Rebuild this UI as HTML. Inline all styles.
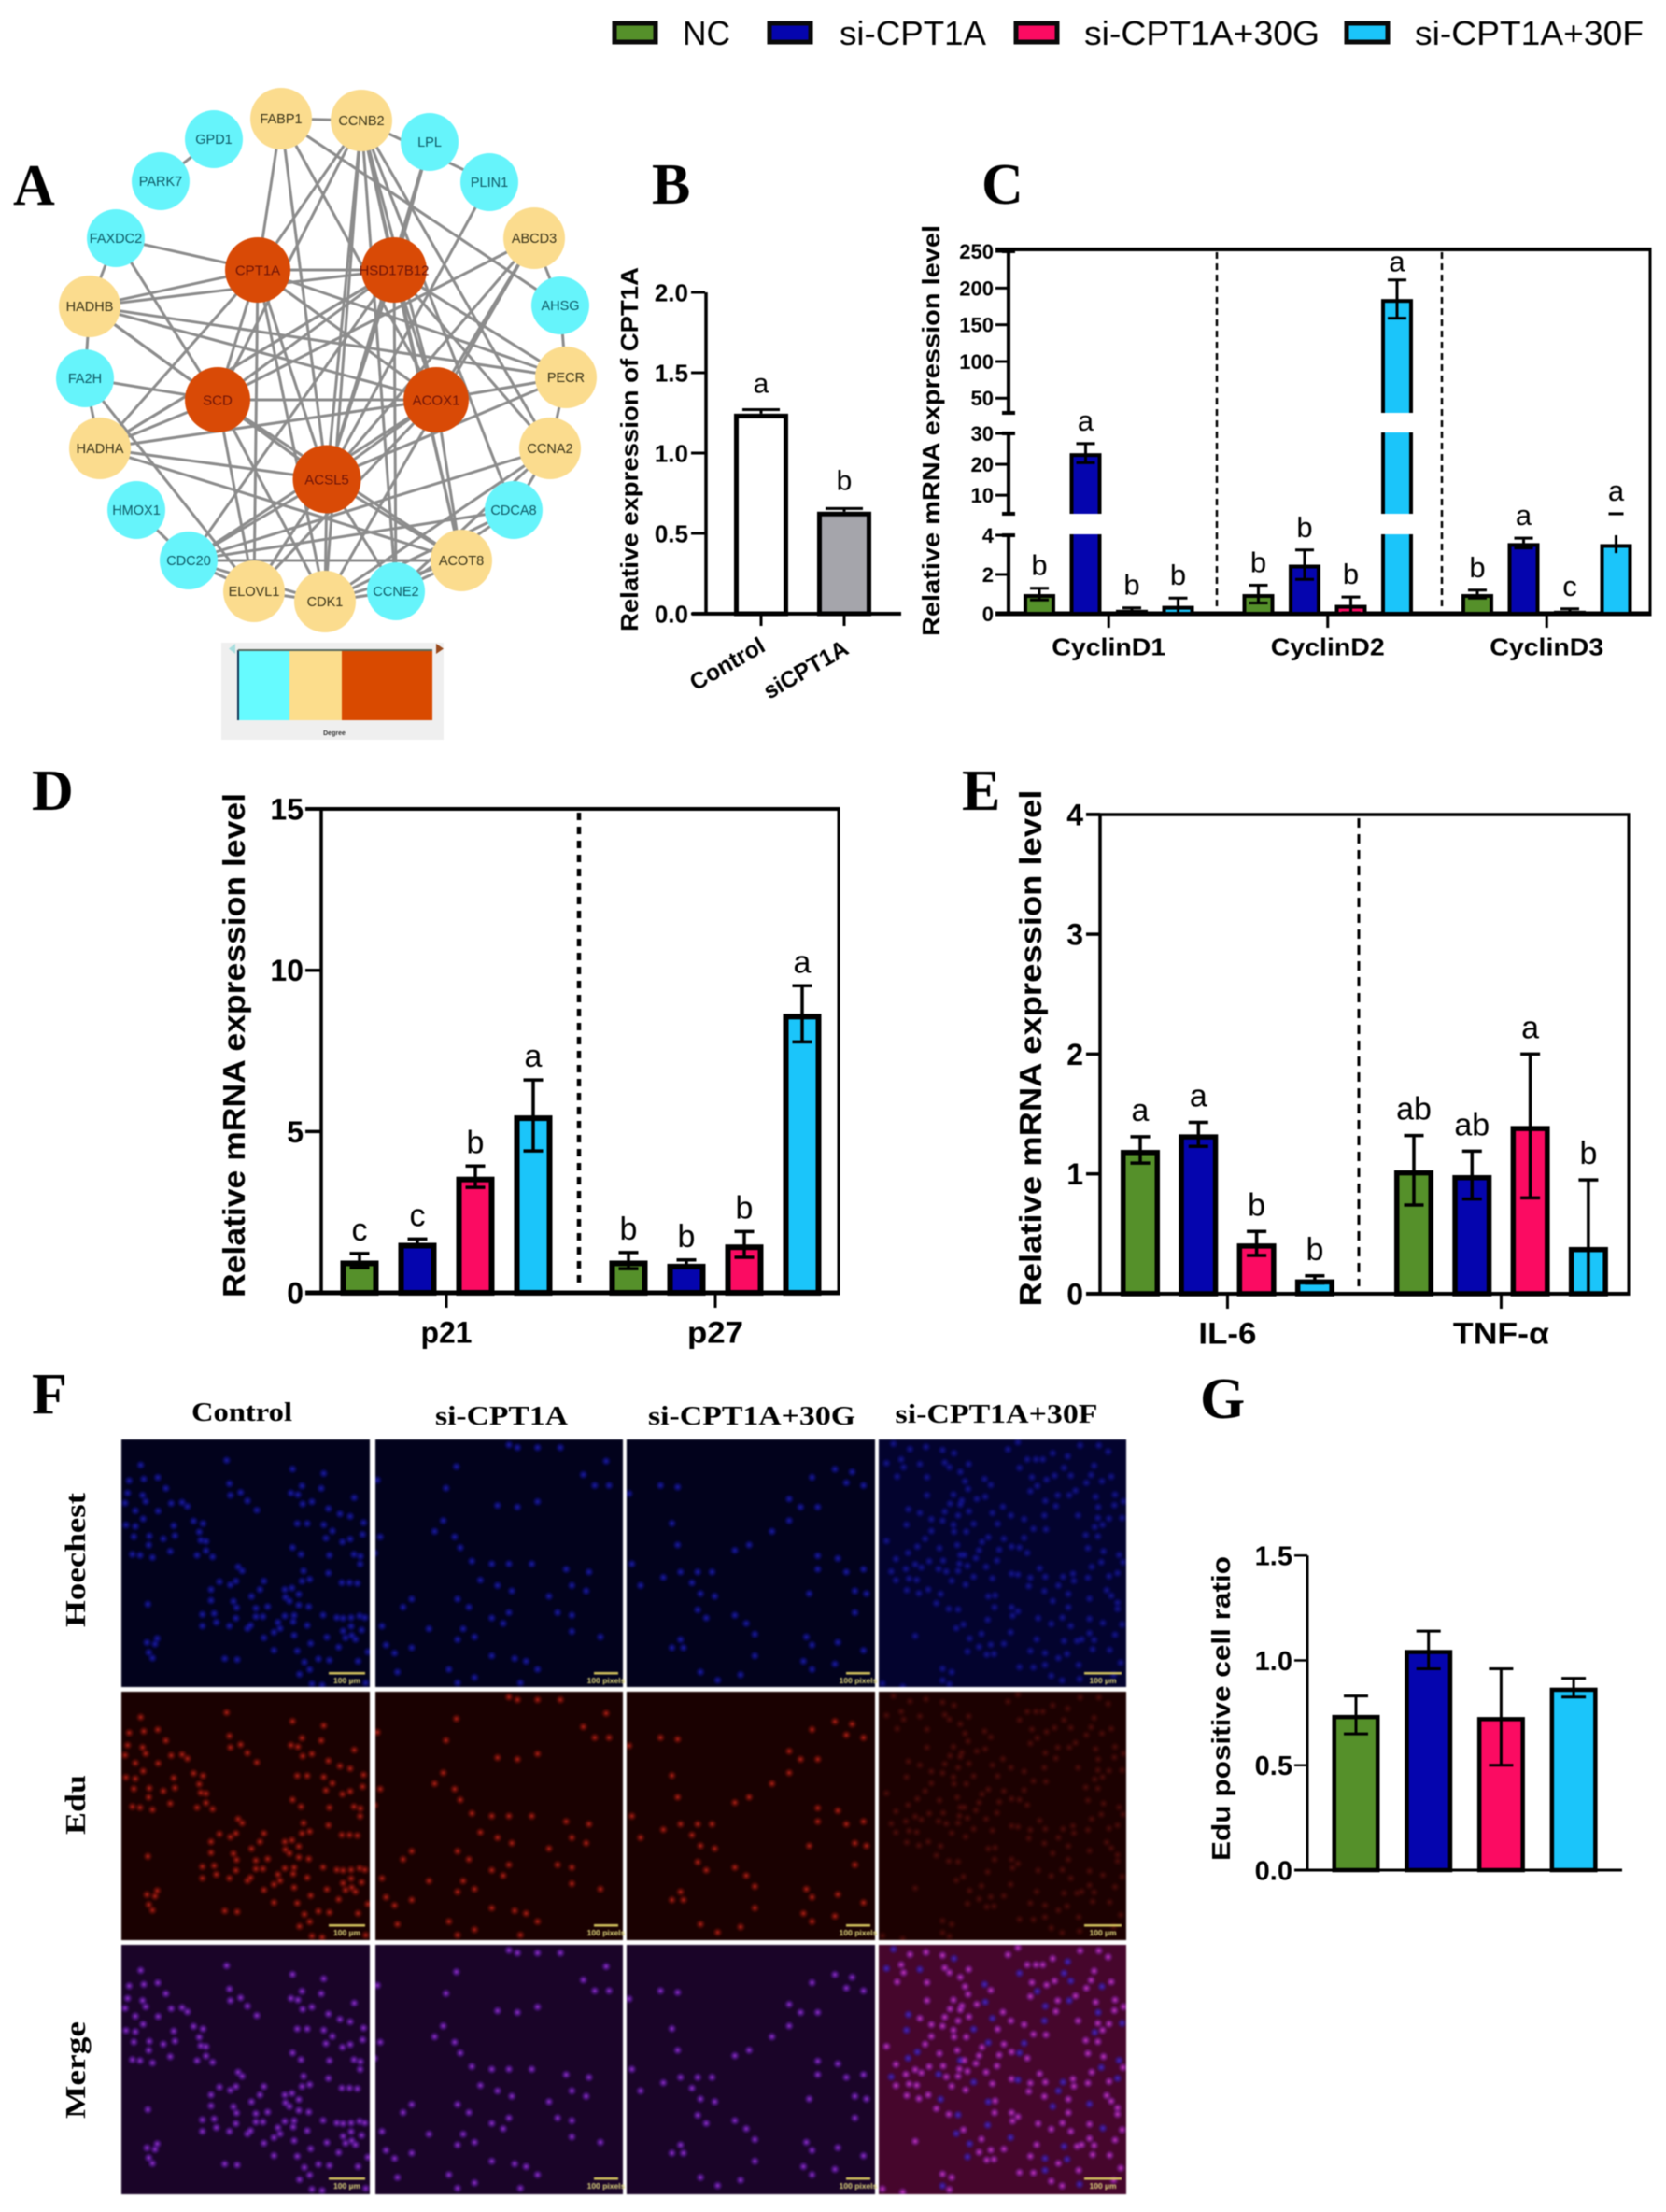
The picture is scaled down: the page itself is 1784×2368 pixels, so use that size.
<!DOCTYPE html>
<html lang="en">
<head>
<meta charset="utf-8">
<title>CPT1A knockdown figure panels</title>
<style>
html,body{margin:0;padding:0;background:#fff;}
svg{display:block;font-family:"Liberation Sans",Arial,sans-serif;filter:blur(0.5px);}
</style>
</head>
<body>
<svg id="fig" xmlns="http://www.w3.org/2000/svg" width="1784" height="2368" viewBox="0 0 1784 2368">
<defs>
<radialGradient id="g-blue"><stop offset="0" stop-color="#2a2ae0"/><stop offset=".4" stop-color="#1a1ab8" stop-opacity=".75"/><stop offset="1" stop-color="#1010a0" stop-opacity="0"/></radialGradient>
<radialGradient id="g-blue2"><stop offset="0" stop-color="#4a30e0"/><stop offset=".4" stop-color="#3a20c0" stop-opacity=".75"/><stop offset="1" stop-color="#3018a0" stop-opacity="0"/></radialGradient>
<radialGradient id="g-red"><stop offset="0" stop-color="#e03020"/><stop offset=".4" stop-color="#a01810" stop-opacity=".7"/><stop offset="1" stop-color="#801008" stop-opacity="0"/></radialGradient>
<radialGradient id="g-dimred"><stop offset="0" stop-color="#8a1810"/><stop offset=".4" stop-color="#601210" stop-opacity=".7"/><stop offset="1" stop-color="#500c08" stop-opacity="0"/></radialGradient>
<radialGradient id="g-purple"><stop offset="0" stop-color="#b840f0"/><stop offset=".4" stop-color="#7a24c8" stop-opacity=".75"/><stop offset="1" stop-color="#6018a8" stop-opacity="0"/></radialGradient>
<radialGradient id="g-pink"><stop offset="0" stop-color="#e848d8"/><stop offset=".4" stop-color="#a828c8" stop-opacity=".75"/><stop offset="1" stop-color="#8020a8" stop-opacity="0"/></radialGradient>
</defs>

<g>
<rect x="658" y="25" width="44" height="20" fill="#55902a" stroke="#0a0a0a" stroke-width="5"/>
<text x="731" y="48" font-size="36" textLength="51" lengthAdjust="spacingAndGlyphs">NC</text>
<rect x="824" y="25" width="44" height="20" fill="#0505ae" stroke="#0a0a0a" stroke-width="5"/>
<text x="899" y="48" font-size="36" textLength="157" lengthAdjust="spacingAndGlyphs">si-CPT1A</text>
<rect x="1088" y="25" width="44" height="20" fill="#fb0b62" stroke="#0a0a0a" stroke-width="5"/>
<text x="1161" y="48" font-size="36" textLength="252" lengthAdjust="spacingAndGlyphs">si-CPT1A+30G</text>
<rect x="1442" y="25" width="44" height="20" fill="#1bc5fa" stroke="#0a0a0a" stroke-width="5"/>
<text x="1515" y="48" font-size="36" textLength="245" lengthAdjust="spacingAndGlyphs">si-CPT1A+30F</text>
</g>

<g font-family="'Liberation Serif',serif" font-weight="bold" font-size="62" fill="#000">
<text x="14" y="219">A</text>
<text x="698" y="218">B</text>
<text x="1051" y="218">C</text>
<text x="34" y="867">D</text>
<text x="1030" y="867">E</text>
<text x="34" y="1513">F</text>
<text x="1285" y="1518">G</text>
</g>

<g id="network"></g>
<g>
<rect x="237" y="688" width="238" height="104" fill="#efefef"/>
<rect x="255" y="696" width="55" height="75" fill="#66fbff"/>
<rect x="310" y="696" width="56" height="75" fill="#fcdd8c"/>
<rect x="366" y="696" width="97" height="75" fill="#d94a00"/>
<rect x="254" y="696" width="2" height="75" fill="#135"/>
<rect x="255" y="695" width="208" height="2" fill="#5a6a60"/>
<polygon points="252,689 252,700 245,694.5" fill="#a8dede"/>
<polygon points="467,689 467,700 475,694.5" fill="#9a4a1c"/>
<text x="358" y="787" font-size="7" font-weight="bold" text-anchor="middle" fill="#333">Degree</text>
</g>

<g id="panelB"></g>
<g id="panelC"></g>
<g id="panelD"></g>
<g id="panelE"></g>
<g id="panelF"></g>
<g id="panelG"></g>
</svg>

<script>
// ---------- chart data ----------
const seriesColors = ['#55902a', '#0505ae', '#fb0b62', '#1bc5fa'];

const bCategories = ['Control', 'siCPT1A'];
const bValues = [1.245, 0.635];
const bErrors = [0.025, 0.02];
const bLetters = ['a', 'b'];
const bTicks = ['0.0', '0.5', '1.0', '1.5', '2.0'];

const cCategories = ['CyclinD1', 'CyclinD2', 'CyclinD3'];
const cNC = [1, 1, 1];
const cSi = [23.6, 2.5, 3.6];
const c30G = [0.2, 0.45, 0.15];
const c30F = [0.4, 185, 3.55];
const cNCErr = [0.3, 0.45, 0.2];
const cSiErr = [3.1, 0.75, 0.25];
const c30GErr = [0.1, 0.4, 0.1];
const c30FErr = [0.4, 26, 0.46];
const cNCLetters = ['b', 'b', 'b'];
const cSiLetters = ['a', 'b', 'a'];
const c30GLetters = ['b', 'b', 'c'];
const c30FLetters = ['b', 'a', 'a'];
const cTicks = [0, 2, 4, 10, 20, 30, 50, 100, 150, 200, 250];

const dCategories = ['p21', 'p27'];
const dNC = [1, 1];
const dSi = [1.55, 0.9];
const d30G = [3.6, 1.5];
const d30F = [5.5, 8.65];
const dNCErr = [0.22, 0.25];
const dSiErr = [0.12, 0.12];
const d30GErr = [0.33, 0.4];
const d30FErr = [1.1, 0.87];
const dNCLetters = ['c', 'b'];
const dSiLetters = ['c', 'b'];
const d30GLetters = ['b', 'b'];
const d30FLetters = ['a', 'a'];
const dTicks = [0, 5, 10, 15];

const eCategories = ['IL-6', 'TNF-\u03b1'];
const eNC = [1.2, 1.03];
const eSi = [1.33, 0.99];
const e30G = [0.42, 1.4];
const e30F = [0.12, 0.39];
const eNCErr = [0.11, 0.29];
const eSiErr = [0.1, 0.2];
const e30GErr = [0.1, 0.6];
const e30FErr = [0.03, 0.56];
const eNCLetters = ['a', 'ab'];
const eSiLetters = ['a', 'ab'];
const e30GLetters = ['b', 'a'];
const e30FLetters = ['b', 'b'];
const eTicks = [0, 1, 2, 3, 4];

const gValues = [0.74, 1.05, 0.73, 0.87];
const gErrors = [0.09, 0.09, 0.23, 0.045];
const gTicks = ['0.0', '0.5', '1.0', '1.5'];

// ---------- network data ----------
const coreGenes = ['CPT1A', 'HSD17B12', 'SCD', 'ACOX1', 'ACSL5'];
const midGenes = ['FABP1', 'CCNB2', 'ABCD3', 'HADHB', 'PECR', 'HADHA', 'CCNA2', 'ACOT8', 'ELOVL1', 'CDK1'];
const lowGenes = ['GPD1', 'LPL', 'PARK7', 'PLIN1', 'FAXDC2', 'AHSG', 'FA2H', 'HMOX1', 'CDCA8', 'CDC20', 'CCNE2'];
const edgeList = 'FABP1-CPT1A FABP1-ACSL5 FABP1-ACOX1 FABP1-AHSG FABP1-CCNB2 CCNB2-SCD CCNB2-ACSL5 CCNB2-CDK1 CCNB2-CPT1A CCNB2-HSD17B12 CCNB2-CCNA2 CCNB2-ACOT8 CCNB2-PLIN1 CCNB2-ACOX1 CCNB2-CCNE2 CCNB2-CDCA8 GPD1-PARK7 LPL-HSD17B12 LPL-ACSL5 PLIN1-ACSL5 FAXDC2-CPT1A FAXDC2-SCD FAXDC2-HADHB HADHB-CPT1A HADHB-HSD17B12 HADHB-SCD HADHB-ACOX1 HADHB-ACSL5 HADHB-PECR HADHB-FA2H FA2H-SCD FA2H-HADHA FA2H-ELOVL1 HADHA-SCD HADHA-ACSL5 HADHA-CPT1A HADHA-HSD17B12 HADHA-ACOX1 HADHA-ACOT8 ABCD3-ACSL5 ABCD3-ACOX1 ABCD3-SCD ABCD3-CDK1 ABCD3-AHSG AHSG-PECR PECR-ACOX1 PECR-ACSL5 PECR-HSD17B12 PECR-CCNA2 CCNA2-HSD17B12 CCNA2-CDC20 CCNA2-CDK1 CCNA2-CDCA8 CDCA8-CDC20 CDCA8-CDK1 CDCA8-CCNE2 ACOT8-ACSL5 ACOT8-SCD ACOT8-HSD17B12 ACOT8-CDC20 ACOT8-CDK1 ACOT8-ACOX1 ACOT8-CCNE2 CCNE2-CDK1 CCNE2-HSD17B12 CCNE2-ACSL5 CCNE2-CCNA2 CDK1-ACSL5 CDK1-ELOVL1 CDK1-CDC20 CDK1-CPT1A CDK1-SCD ELOVL1-ACSL5 ELOVL1-SCD ELOVL1-CDC20 ELOVL1-ACOX1 ELOVL1-CPT1A CDC20-HMOX1 CDC20-ACSL5 CDC20-HSD17B12 CDC20-ACOX1 CPT1A-HSD17B12 CPT1A-ACOX1 CPT1A-SCD SCD-ACOX1 SCD-ACSL5 ACOX1-ACSL5 HSD17B12-ACSL5 CPT1A-ACSL5 HSD17B12-ACOX1 HSD17B12-SCD CPT1A-PECR HSD17B12-HADHA'.split(' ');
const nodeXY = {FABP1:[301,127],CCNB2:[387,129],GPD1:[229,149],LPL:[460,152],PARK7:[172,194],PLIN1:[524,195],FAXDC2:[124,255],ABCD3:[572,255],HADHB:[96,328],AHSG:[600,327],FA2H:[91,405],PECR:[606,404],HADHA:[107,480],CCNA2:[589,480],HMOX1:[146,546],CDCA8:[550,546],CDC20:[202,600],ACOT8:[494,600],ELOVL1:[272,633],CCNE2:[424,633],CDK1:[348,644],CPT1A:[276,289],HSD17B12:[422,289],SCD:[233,428],ACOX1:[467,428],ACSL5:[350,513]};

// ---------- micrograph nuclei ----------
const cellsControl = [[62,115],[25,165],[72,160],[117,155],[143,190],[20,205],[68,212],[78,232],[12,237],[160,238],[195,235],[212,248],[45,262],[118,263],[70,288],[15,308],[45,312],[232,295],[262,303],[168,310],[250,330],[40,345],[90,343],[135,352],[172,342],[255,357],[272,360],[88,372],[272,390],[157,392],[35,402],[60,405],[100,412],[243,405],[293,410],[338,100],[347,175],[350,212],[383,203],[405,230],[435,260],[550,128],[650,142],[580,182],[642,190],[545,205],[567,210],[612,233],[582,240],[748,220],[665,255],[702,272],[735,280],[565,303],[597,303],[650,307],[678,327],[778,300],[775,338],[657,350],[710,362],[735,353],[550,380],[577,402],[668,405],[747,402],[768,408],[767,433],[585,455],[665,462],[580,488],[605,482],[708,493],[733,493],[758,495],[375,442],[388,455],[315,490],[288,515],[350,500],[368,488],[458,488],[445,515],[418,537],[288,550],[525,515],[548,510],[527,540],[570,530],[540,552],[570,565],[360,553],[370,573],[432,575],[470,570],[602,570],[260,595],[298,592],[305,620],[260,632],[347,632],[368,607],[405,640],[432,602],[455,602],[415,630],[525,600],[555,598],[552,618],[503,620],[510,640],[490,652],[597,630],[648,597],[692,605],[712,607],[738,605],[765,600],[782,605],[738,633],[712,648],[772,645],[740,662],[752,675],[720,670],[555,662],[458,670],[660,668],[608,688],[698,700],[490,710],[565,712],[792,715],[332,737],[372,740],[82,685],[115,672],[108,690],[88,717],[100,735],[85,562],[588,748],[633,738],[668,742],[760,745],[605,772],[572,787],[612,818],[645,822],[785,815]];
const cellsSi = [[798,190],[780,230],[890,150],[905,155],[940,155],[980,155],[1060,180],[1020,205],[1040,225],[1065,225],[660,215],[665,320],[655,350],[870,262],[905,265],[940,255],[775,290],[795,320],[760,310],[805,340],[825,365],[860,370],[890,370],[840,400],[870,410],[895,420],[930,370],[990,380],[1030,385],[1000,410],[960,430],[975,460],[1000,465],[1025,420],[720,435],[705,450],[800,435],[820,450],[860,470],[890,460],[750,490],[720,525],[690,535],[668,485],[675,520],[810,490],[830,505],[880,480],[800,510],[1000,495],[1050,505],[785,565],[800,590],[860,540],[900,545],[920,550],[940,565],[830,580],[910,590],[695,570]];
const cells30G = [[1155,225],[1185,228],[1100,240],[1175,295],[1185,335],[1380,250],[1380,290],[1400,265],[1430,265],[1420,210],[1460,195],[1490,200],[1510,225],[1480,220],[1350,310],[1310,335],[1285,345],[1245,385],[1220,385],[1190,385],[1160,395],[1120,410],[1105,370],[1210,405],[1225,425],[1250,430],[1220,455],[1235,470],[1285,465],[1305,480],[1430,355],[1465,360],[1430,380],[1480,385],[1510,380],[1415,425],[1495,420],[1515,425],[1495,460],[1410,505],[1420,520],[1465,515],[1190,510],[1175,525],[1195,525],[1320,500],[1320,540],[1405,550],[1420,565],[1225,570],[1255,585],[1295,575],[1510,530],[1460,555]];
const cells30F = [[110,80],[163,97],[215,90],[268,100],[305,110],[478,98],[510,75],[622,110],[670,120],[710,85],[770,85],[800,105],[88,142],[135,130],[143,155],[122,185],[195,145],[275,140],[290,155],[352,145],[515,157],[540,130],[568,130],[590,130],[658,157],[555,187],[602,195],[628,182],[680,182],[730,205],[755,150],[745,180],[780,200],[810,185],[218,187],[325,170],[403,193],[423,212],[340,200],[350,225],[572,215],[218,245],[303,243],[378,257],[405,250],[330,262],[550,232],[638,245],[675,245],[695,230],[760,250],[822,243],[598,263],[850,265],[292,272],[275,298],[158,290],[195,302],[325,275],[353,297],[428,302],[462,282],[488,310],[632,280],[768,283],[820,277],[232,322],[268,327],[152,340],[232,360],[318,310],[303,340],[368,337],[344,362],[305,362],[530,322],[595,310],[703,310],[767,318],[803,320],[845,318],[445,337],[560,353],[600,355],[757,347],[782,340],[88,392],[212,385],[187,410],[258,415],[315,405],[395,395],[415,380],[385,422],[450,420],[465,385],[530,382],[728,373],[767,377],[490,410],[515,413],[540,430],[735,415],[785,425],[157,430],[118,450],[225,457],[270,455],[325,437],[338,437],[375,447],[443,455],[835,437],[180,467],[150,482],[200,477],[103,490],[322,465],[348,472],[280,490],[255,482],[318,488],[408,475],[580,480],[778,460],[848,460],[747,475],[490,497],[510,500],[118,518],[160,513],[185,517],[368,507],[428,512],[550,510],[598,507],[655,507],[687,497],[735,510],[803,505],[830,495],[222,548],[153,550],[192,560],[262,562],[297,520],[342,532],[545,537],[640,535],[690,520],[795,550],[810,568],[415,570],[437,567],[595,553],[672,562],[740,577],[830,590],[248,592],[435,605],[622,585],[672,605],[830,610],[288,610],[318,612],[490,605],[510,618],[493,632],[413,645],[575,640],[653,638],[740,642],[312,672],[335,660],[680,665],[617,658],[783,655],[740,688],[822,693],[845,660],[487,685],[393,690],[180,697],[570,708],[658,713],[700,713],[715,708],[755,710],[355,705],[385,732],[423,725],[465,722],[348,747],[410,757],[433,755],[550,745],[597,752],[640,768],[750,740],[805,742],[668,755],[840,783],[268,802],[297,813],[268,840],[290,852],[515,797],[560,798],[597,790],[705,790],[617,825],[652,840],[708,835],[818,822],[75,850],[140,860]];

// ---------- helpers ----------
const NS = 'http://www.w3.org/2000/svg';
function svgEl(parent, tag, props) {
  const el = document.createElementNS(NS, tag);
  for (const k in props) el.setAttribute(k, props[k]);
  parent.appendChild(el);
  return el;
}
function label(parent, str, x, y, size, opts) {
  const o = opts || {};
  const el = svgEl(parent, 'text', {
    x: x, y: y, 'font-size': size,
    'text-anchor': o.anchor || 'middle',
    'font-weight': o.weight || 'normal',
    fill: o.fill || '#000'
  });
  if (o.family) el.setAttribute('font-family', o.family);
  if (o.len) {
    el.setAttribute('textLength', o.len);
    el.setAttribute('lengthAdjust', 'spacingAndGlyphs');
  }
  if (o.rotate !== undefined) el.setAttribute('transform', 'rotate(' + o.rotate + ' ' + x + ' ' + y + ')');
  el.textContent = str;
  return el;
}
function line(parent, x1, y1, x2, y2, w, extra) {
  const el = svgEl(parent, 'line', {x1: x1, y1: y1, x2: x2, y2: y2, stroke: '#000', 'stroke-width': w});
  if (extra) el.setAttribute('stroke-dasharray', extra);
  return el;
}

function drawErrorBar(g, x, y, yTop, yBot, capW, w) {
  const stem = line(g, x, yTop, x, yBot, w);
  
  
  const top = line(g, x - capW / 2, yTop, x + capW / 2, yTop, w);
  
  
  if (yBot !== y) {
    const bot = line(g, x - capW / 2, yBot, x + capW / 2, yBot, w);
    
    
  }
}
function drawBar(g, x, w, yTop, yBase, fill, sw) {
  const r = svgEl(g, 'rect', {x: x - w / 2 + sw / 2, y: yTop + sw / 2, width: w - sw, height: Math.max(yBase - yTop - sw / 2, 0), fill: fill, stroke: '#000', 'stroke-width': sw});
  
  
  return r;
}
function drawLetter(g, str, x, y, size) {
  const t = label(g, str, x, y, size);
  
  
}
function drawYTick(g, text, xAxis, y, tickLen, labelX, size, w) {
  const t = line(g, xAxis - tickLen, y, xAxis, y, w);
  
  
  const l = label(g, text, labelX, y + size * 0.36, size, {anchor: 'end', weight: 'bold'});
  
  
}
function drawXTick(g, text, x, yAxis, tickLen, labelY, size, len, w) {
  const t = line(g, x, yAxis, x, yAxis + tickLen, w);
  
  
  const l = label(g, text, x, labelY + size * 0.36, size, {weight: 'bold', len: len});
  
  
}
function drawYTitle(g, text, x, yCenter, size, len) {
  const l = label(g, text, x, yCenter, size, {weight: 'bold', len: len, rotate: -90});
  
  
}
function drawFrame(g, x0, y0, x1, y1, leftW, topW, rightW, botW, xStart) {
  const top = line(g, xStart, y0, x1 + rightW / 2, y0, topW);
  
  
  const right = line(g, x1, y0, x1, y1, rightW);
  
  
  const bottom = line(g, xStart, y1, x1 + rightW / 2, y1, botW);
  
  
  if (leftW) {
    const left = line(g, x0, y0, x0, y1, leftW);
    
    
  }
}
function drawDivider(g, x, y0, y1, w, dash) {
  const d = line(g, x, y0, x, y1, w, dash);
  
  
}

// ---------- panel A ----------
(function () {
  const root = document.getElementById('network');
  edgeList.forEach(function (e) {
    const p = e.split('-');
    const a = nodeXY[p[0]], b = nodeXY[p[1]];
    const l = svgEl(root, 'line', {x1: a[0], y1: a[1], x2: b[0], y2: b[1], stroke: '#8c8c8c', 'stroke-width': 3});
    
    
  });
  function node(name, fill, r, textFill, size) {
    const c = nodeXY[name];
    const n = svgEl(root, 'circle', {cx: c[0], cy: c[1], r: r, fill: fill});
    
    
    const t = label(root, name, c[0], c[1] + size * 0.36, size, {fill: textFill});
    
    
  }
  lowGenes.forEach(function (n) { node(n, '#66f4fb', 31, '#0e5a66', 14.5); });
  midGenes.forEach(function (n) { node(n, '#fbdc8e', 33, '#3a3418', 14.5); });
  coreGenes.forEach(function (n) { node(n, '#d94a06', n === 'ACSL5' ? 36.5 : 35, '#6e1408', 15); });
})();

// ---------- panel B ----------
(function () {
  const g = document.getElementById('panelB');
  const y = function (v) { return 657 - v * 172; };
  const x = function (i) { return 815 + i * 89; };
  const barFills = ['#ffffff', '#a5a5ab'];
  const labelX = [783, 867];
  const labelY = [718, 724];
  const labelLen = [88, 100];
  bValues.forEach(function (v, i) {
    const top = y(v + bErrors[i]);
    drawErrorBar(g, x(i), y(v), top, y(v), 40, 3);
    drawBar(g, x(i), 58, y(v), 657, barFills[i], 5);
    drawLetter(g, bLetters[i], x(i), top - (i ? 20 : 18), 30);
  });
  bTicks.forEach(function (t) { drawYTick(g, t, 755, y(parseFloat(t)), 15, 737, 26, 3); });
  const axisY = line(g, 756, y(2), 756, 657, 3.5);
  
  
  const axisX = line(g, 741, 657, 965, 657, 4);
  
  
  bCategories.forEach(function (c, i) {
    const t = line(g, x(i), 657, x(i), 670, 3);
    
    
    const l = label(g, c, labelX[i], labelY[i], 25, {weight: 'bold', rotate: -30, len: labelLen[i]});
    
    
  });
  drawYTitle(g, 'Relative expression of CPT1A', 683, 481, 26, 390);
})();

// ---------- panel C (broken y axis) ----------
(function () {
  const g = document.getElementById('panelC');
  const y = function (v) {
    if (v <= 4) return 657 - v * 21;
    if (v <= 30) return 550 - (v - 4) * 3.308;
    return 442 - (v - 30) * 0.786;
  };
  const x = function (gi, s) { return 1113 + gi * 234.5 + s * 49.5; };
  const series = [cNC, cSi, c30G, c30F];
  const errs = [cNCErr, cSiErr, c30GErr, c30FErr];
  const letters = [cNCLetters, cSiLetters, c30GLetters, c30FLetters];
  const bw = 34;
  drawFrame(g, 1080, 267, 1767, 657, 0, 4, 3, 5, 1066);
  drawDivider(g, 1303, 270, 654, 2.5, '7 5');
  drawDivider(g, 1544, 270, 654, 2.5, '7 5');
  series.forEach(function (vals, s) {
    vals.forEach(function (v, gi) {
      const cx = x(gi, s);
      const e = errs[s][gi];
      const top = y(v + e);
      drawBar(g, cx, bw, y(v), 657, seriesColors[s], 4);
      if (v > 4) {
        const gapA = svgEl(g, 'rect', {x: cx - bw / 2 - 1, y: 550, width: bw + 2, height: 22, fill: '#fff'});
        
        
      }
      if (v > 30) {
        const gapB = svgEl(g, 'rect', {x: cx - bw / 2 - 1, y: 442, width: bw + 2, height: 21, fill: '#fff'});
        
        
      }
      if (v <= 4 && v + e > 4) {
        drawErrorBar(g, cx, y(v), y(4), y(v - e), 0, 3);
        const floating = line(g, cx - 8, top, cx + 8, top, 3);
        
        
      } else {
        drawErrorBar(g, cx, y(v), top, y(v - e), 20, 3);
      }
      drawLetter(g, letters[s][gi], cx, top - (v > 30 ? 9 : 14), 31);
    });
  });
  [[269, 442], [464, 550], [573, 657]].forEach(function (seg) {
    const l = line(g, 1080, seg[0], 1080, seg[1], 4);
    
    
    const capLow = line(g, 1073, seg[1], 1087, seg[1], 4);
    
    
    const capHigh = line(g, 1073, seg[0], 1087, seg[0], 4);
    
    
  });
  cTicks.forEach(function (t) { drawYTick(g, String(t), 1080, y(t), 14, 1064, 22, 3); });
  cCategories.forEach(function (c, i) {
    drawXTick(g, c, (x(i, 0) + x(i, 3)) / 2, 657, 15, 692, 26, 122, 3);
  });
  drawYTitle(g, 'Relative mRNA expression level', 1006, 461, 26, 440);
})();

// ---------- shared grouped plot for D and E ----------
function groupedPanel(g, cfg) {
  drawFrame(g, cfg.x0, cfg.y0, cfg.x1, cfg.yBase, cfg.leftW, cfg.topW, cfg.rightW, cfg.botW, cfg.xStart);
  cfg.dividers.forEach(function (d) { drawDivider(g, d, cfg.y0 + 4, cfg.yBase - 8, cfg.divW, cfg.dash); });
  cfg.series.forEach(function (vals, s) {
    vals.forEach(function (v, gi) {
      const cx = cfg.x(gi, s);
      const e = cfg.errs[s][gi];
      drawBar(g, cx, cfg.bw, cfg.y(v), cfg.yBase, seriesColors[s], cfg.sw);
      drawErrorBar(g, cx, cfg.y(v), cfg.y(v + e), cfg.y(Math.max(v - e, 0.0001)), 21, 3.5);
      drawLetter(g, cfg.letters[s][gi], cx, cfg.y(v + e) - cfg.gap, 34);
    });
  });
  cfg.ticks.forEach(function (t) { drawYTick(g, String(t), cfg.x0, cfg.y(t), cfg.tickLen, cfg.labelX, 32, 3.5); });
  cfg.cats.forEach(function (c, i) {
    drawXTick(g, c, (cfg.x(i, 0) + cfg.x(i, 3)) / 2, cfg.yBase, 16, cfg.catY, 32, cfg.catLen[i], 3);
  });
  drawYTitle(g, cfg.title, cfg.titleX, cfg.titleY, 33, cfg.titleLen);
}

groupedPanel(document.getElementById('panelD'), {
  x0: 344, y0: 866, x1: 898, yBase: 1384, leftW: 3.5, topW: 4, rightW: 3, botW: 5, xStart: 327,
  y: function (v) { return 1384 - v * 34.53; },
  x: function (gi, s) { return 385 + gi * 288 + s * 62; },
  series: [dNC, dSi, d30G, d30F],
  errs: [dNCErr, dSiErr, d30GErr, d30FErr],
  letters: [dNCLetters, dSiLetters, d30GLetters, d30FLetters],
  bw: 41, sw: 6, gap: 14, ticks: dTicks, tickLen: 17, labelX: 325,
  dividers: [620], divW: 4.5, dash: '8 7',
  cats: dCategories, catLen: [55, 60], catY: 1426,
  title: 'Relative mRNA expression level', titleX: 262, titleY: 1119, titleLen: 540
});

groupedPanel(document.getElementById('panelE'), {
  x0: 1178, y0: 872, x1: 1744, yBase: 1385, leftW: 3.5, topW: 3.5, rightW: 3, botW: 4, xStart: 1163,
  y: function (v) { return 1385 - v * 128.3; },
  x: function (gi, s) { return 1221 + gi * 293 + s * 62.3; },
  series: [eNC, eSi, e30G, e30F],
  errs: [eNCErr, eSiErr, e30GErr, e30FErr],
  letters: [eNCLetters, eSiLetters, e30GLetters, e30FLetters],
  bw: 42, sw: 5.5, gap: 17, ticks: eTicks, tickLen: 15, labelX: 1160,
  dividers: [1455], divW: 3, dash: '10 7',
  cats: eCategories, catLen: [62, 103], catY: 1427,
  title: 'Relative mRNA expression level', titleX: 1115, titleY: 1122, titleLen: 553
});

// ---------- panel G ----------
(function () {
  const g = document.getElementById('panelG');
  const y = function (v) { return 2002 - v * 224.5; };
  const x = function (i) { return 1452 + i * 77.7; };
  gValues.forEach(function (v, i) {
    drawBar(g, x(i), 51, y(v), 2002, seriesColors[i], 4.5);
    drawErrorBar(g, x(i), y(v), y(v + gErrors[i]), y(v - gErrors[i]), 26, 3);
  });
  gTicks.forEach(function (t) { drawYTick(g, t, 1400, y(parseFloat(t)), 14, 1384, 29, 2.5); });
  const axisY = line(g, 1400, y(1.5), 1400, 2002, 3);
  
  
  const axisX = line(g, 1386, 2002, 1737, 2002, 3);
  
  
  drawYTitle(g, 'Edu positive cell ratio', 1317, 1829, 28, 326);
})();

// ---------- panel F ----------
(function () {
  const g = document.getElementById('panelF');
  const serif = "'Liberation Serif',serif";
  const cols = [[130, 396], [402, 667], [671, 937], [941, 1206]];
  const rows = [[1541, 1806], [1811, 2077], [2082, 2349]];
  const colTitles = ['Control', 'si-CPT1A', 'si-CPT1A+30G', 'si-CPT1A+30F'];
  const titleCenters = [259, 537, 805, 1067];
  const titleY = [1521, 1525, 1525, 1523];
  const titleLens = [108, 142, 222, 217];
  const rowTitles = ['Hoechest', 'Edu', 'Merge'];
  const rowCenters = [1670, 1932, 2216];
  const rowLens = [144, 64, 104];
  const colCells = [cellsControl, cellsSi, cells30G, cells30F];
  // each tracing was taken from a differently scaled crop of the image
  const relX = [
    function (p) { return p[0] / 3; },
    function (p) { return p[0] / 1.633 - 402; },
    function (p) { return p[0] / 1.633 - 671; },
    function (p) { return (p[0] - 63) / 3; }
  ];
  const relY = [
    function (p) { return (p[1] - 33) / 3; },
    function (p) { return (p[1] - 140) / 1.727; },
    function (p) { return (p[1] - 140) / 1.727; },
    function (p) { return (p[1] - 66) / 3; }
  ];
  const bg = [['#02021c', '#1a0101', '#1a0428'], ['#02021c', '#1a0101', '#1a0428'], ['#02021c', '#1a0101', '#1a0428'], ['#03032e', '#1c0101', '#46062c']];
  const dots = [['g-blue', 'g-red', 'g-purple'], ['g-blue', 'g-red', 'g-purple'], ['g-blue', 'g-red', 'g-purple'], ['g-blue', 'g-dimred', 'g-pink']];
  const dotOpacity = [[0.7, 0.8, 0.8], [0.7, 0.8, 0.8], [0.7, 0.8, 0.8], [0.55, 0.5, 0.8]];
  const scaleText = ['100 \u00b5m', '100 pixels', '100 pixels', '100 \u00b5m'];
  const scaleW = [39, 26, 26, 40];

  colTitles.forEach(function (t, i) {
    const l = label(g, t, titleCenters[i], titleY[i], 29, {family: serif, weight: 'bold', len: titleLens[i]});
    
    
  });
  rowTitles.forEach(function (t, i) {
    const l = label(g, t, 91, rowCenters[i], 31, {family: serif, weight: 'bold', len: rowLens[i], rotate: -90});
    
    
  });
  cols.forEach(function (c, ci) {
    rows.forEach(function (r, ri) {
      const tile = svgEl(g, 'svg', {x: c[0], y: r[0], width: c[1] - c[0], height: r[1] - r[0]});
      
      
      const bgRect = svgEl(tile, 'rect', {x: 0, y: 0, width: c[1] - c[0], height: r[1] - r[0], fill: bg[ci][ri]});
      
      
      colCells[ci].forEach(function (p, i) {
        let fill = dots[ci][ri];
        if (ci === 3 && ri === 2 && i % 4 === 0) fill = 'g-blue2';
        const dot = svgEl(tile, 'circle', {cx: relX[ci](p), cy: relY[ci](p), r: 5.5, fill: 'url(#' + fill + ')', opacity: dotOpacity[ci][ri]});
        
        
      });
      const sx = c[1] - c[0] - 5 - scaleW[ci];
      const bar = svgEl(tile, 'rect', {x: sx, y: 249, width: scaleW[ci], height: 2.5, fill: '#d8c860'});
      
      
      const sl = label(tile, scaleText[ci], sx + scaleW[ci] / 2, 261, 8.5, {fill: '#e4dc80', weight: 'bold'});
      
      
    });
  });
})();
</script>
</body>
</html>
